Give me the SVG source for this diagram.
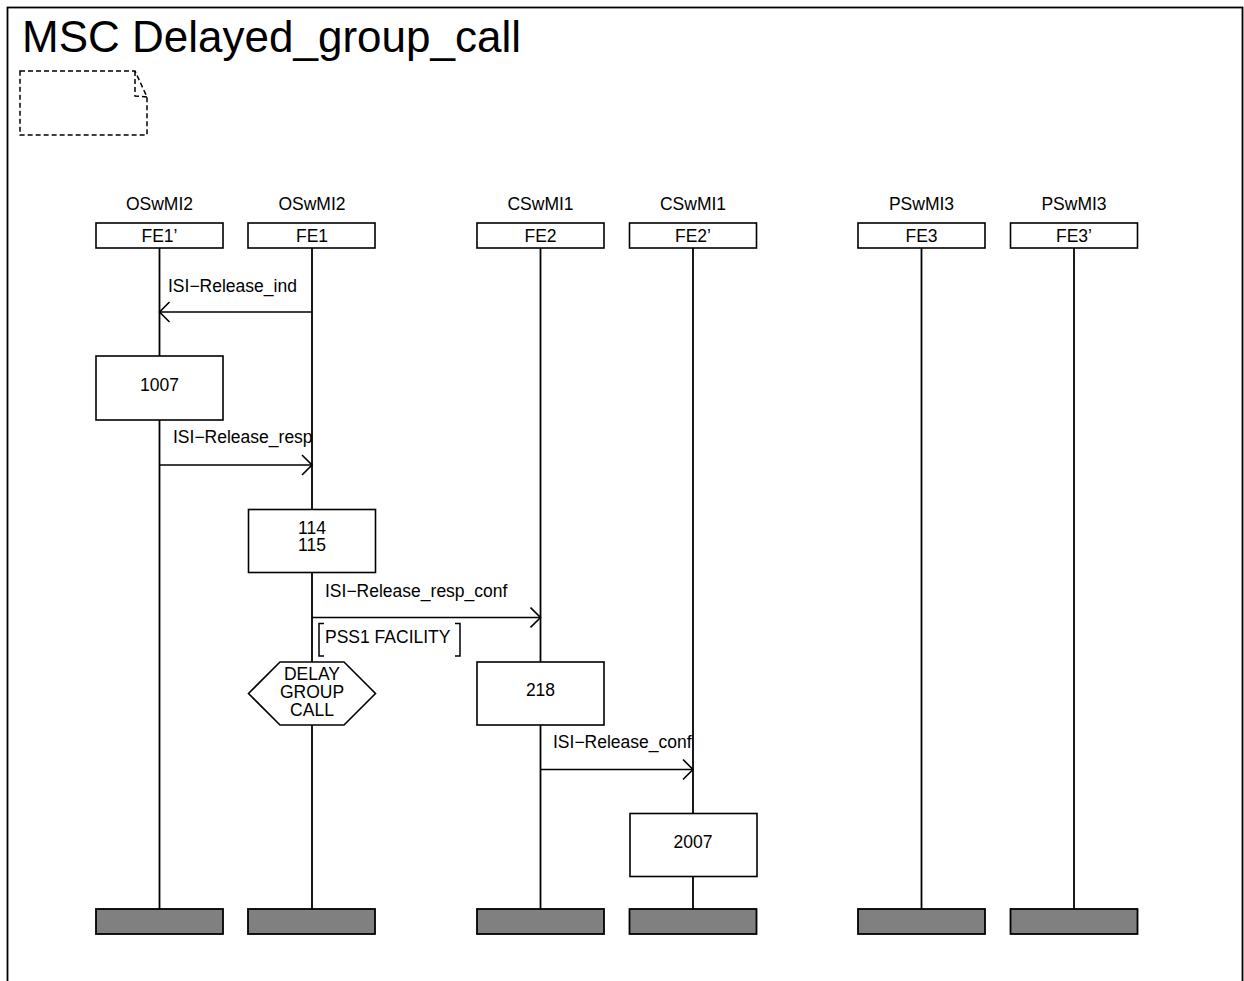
<svg xmlns="http://www.w3.org/2000/svg" width="1244" height="981" viewBox="0 0 1244 981">
<style>
text{font-family:"Liberation Sans",Arial,sans-serif;fill:#000}
.t{font-size:17.5px}
.c{text-anchor:middle}
.title{font-size:44px}
.head{fill:#fff;stroke:#000;stroke-width:1.6}
.end{fill:#808080;stroke:#000;stroke-width:1.8}
.box{fill:#fff;stroke:#000;stroke-width:1.6}
.life{stroke:#000;stroke-width:1.8;fill:none}
.msg{stroke:#000;stroke-width:1.6;fill:none}
</style>
<defs>
<marker id="arr" markerWidth="14" markerHeight="24" refX="11" refY="11" orient="auto" markerUnits="userSpaceOnUse" viewBox="0 0 14 24">
<path d="M1,1 L11,11 L1,21" fill="none" stroke="#000" stroke-width="1.6"/>
</marker>
</defs>
<rect width="1244" height="981" fill="#fff"/>
<rect x="7.5" y="7.5" width="1235" height="990" fill="none" stroke="#000" stroke-width="1.8"/>
<text class="title" x="22" y="52">MSC Delayed_group_call</text>
<g id="note" fill="none" stroke="#000" stroke-width="1.5" stroke-dasharray="5,3">
<path d="M20,71 L135,71 L147,97 L147,135 L20,135 Z"/>
<path d="M135,71 L135,96 L147,97"/>
</g>
<g id="lifelines">
<line class="life" x1="159.5" y1="248" x2="159.5" y2="909"/>
<line class="life" x1="312" y1="248" x2="312" y2="909"/>
<line class="life" x1="540.5" y1="248" x2="540.5" y2="909"/>
<line class="life" x1="693" y1="248" x2="693" y2="909"/>
<line class="life" x1="921.5" y1="248" x2="921.5" y2="909"/>
<line class="life" x1="1074" y1="248" x2="1074" y2="909"/>
</g>
<g id="FE1p">
<text class="t c" x="159.5" y="210">OSwMI2</text>
<rect class="head" x="96" y="223" width="127" height="25"/>
<text class="t c" x="159.5" y="241.5">FE1’</text>
<rect class="end" x="96" y="909" width="127" height="25"/>
</g>
<g id="FE1">
<text class="t c" x="312" y="210">OSwMI2</text>
<rect class="head" x="248" y="223" width="127" height="25"/>
<text class="t c" x="312" y="241.5">FE1</text>
<rect class="end" x="248" y="909" width="127" height="25"/>
</g>
<g id="FE2">
<text class="t c" x="540.5" y="210">CSwMI1</text>
<rect class="head" x="477" y="223" width="127" height="25"/>
<text class="t c" x="540.5" y="241.5">FE2</text>
<rect class="end" x="477" y="909" width="127" height="25"/>
</g>
<g id="FE2p">
<text class="t c" x="693" y="210">CSwMI1</text>
<rect class="head" x="629.5" y="223" width="127" height="25"/>
<text class="t c" x="693" y="241.5">FE2’</text>
<rect class="end" x="629.5" y="909" width="127" height="25"/>
</g>
<g id="FE3">
<text class="t c" x="921.5" y="210">PSwMI3</text>
<rect class="head" x="858" y="223" width="127" height="25"/>
<text class="t c" x="921.5" y="241.5">FE3</text>
<rect class="end" x="858" y="909" width="127" height="25"/>
</g>
<g id="FE3p">
<text class="t c" x="1074" y="210">PSwMI3</text>
<rect class="head" x="1010.5" y="223" width="127" height="25"/>
<text class="t c" x="1074" y="241.5">FE3’</text>
<rect class="end" x="1010.5" y="909" width="127" height="25"/>
</g>
<g id="connectors">
<line class="msg" x1="312" y1="312" x2="159.5" y2="312" marker-end="url(#arr)"/>
<text class="t" x="168" y="292">ISI−Release_ind</text>
<line class="msg" x1="159.5" y1="465" x2="312" y2="465" marker-end="url(#arr)"/>
<text class="t" x="173" y="443">ISI−Release_resp</text>
<line class="msg" x1="312" y1="617.5" x2="540.5" y2="617.5" marker-end="url(#arr)"/>
<text class="t" x="325" y="597">ISI−Release_resp_conf</text>
<line class="msg" x1="540.5" y1="769.5" x2="693" y2="769.5" marker-end="url(#arr)"/>
<text class="t" x="553" y="748">ISI−Release_conf</text>
</g>
<g id="param">
<path d="M324,623.5 L319,623.5 L319,656 L324,656" fill="none" stroke="#000" stroke-width="1.5"/>
<path d="M455,623.5 L460,623.5 L460,656 L455,656" fill="none" stroke="#000" stroke-width="1.5"/>
<text class="t" x="325" y="643">PSS1 FACILITY</text>
</g>
<g id="task1007">
<rect class="box" x="96" y="356" width="127" height="64"/>
<text class="t c" x="159.5" y="391">1007</text>
</g>
<g id="task114">
<rect class="box" x="248.5" y="509.5" width="127" height="63"/>
<text class="t c" x="312" y="533.5">114</text>
<text class="t c" x="312" y="551">115</text>
</g>
<g id="cond">
<polygon class="box" points="248.5,693.5 280,662 344,662 375.5,693.5 344,725 280,725"/>
<text class="t c" x="312" y="680">DELAY</text>
<text class="t c" x="312" y="698">GROUP</text>
<text class="t c" x="312" y="716">CALL</text>
</g>
<g id="task218">
<rect class="box" x="477" y="662" width="127" height="63"/>
<text class="t c" x="540.5" y="696">218</text>
</g>
<g id="task2007">
<rect class="box" x="630" y="813.5" width="127" height="63"/>
<text class="t c" x="693" y="848">2007</text>
</g>
</svg>
